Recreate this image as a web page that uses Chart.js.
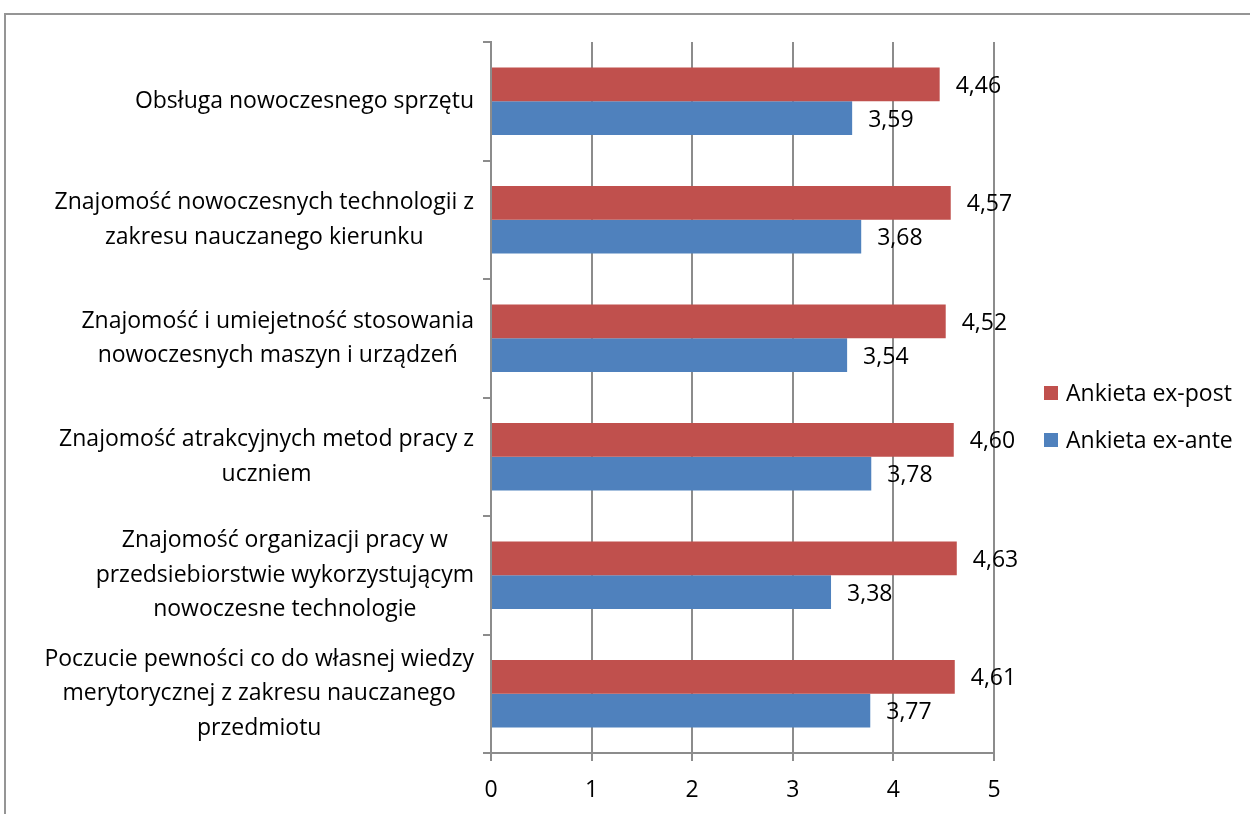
<!DOCTYPE html>
<html><head><meta charset="utf-8">
<script src="https://cdn.jsdelivr.net/npm/chart.js@4.4.0/dist/chart.umd.min.js"></script>
<style>
html,body{margin:0;padding:0;background:#fff;overflow:hidden}
#frame{position:absolute;left:4px;top:13px;width:1400px;height:1000px;border-top:2px solid #959595;border-left:2px solid #959595}
#wrap{position:absolute;left:0;top:0;width:1250px;height:814px}
</style></head><body>
<div id="frame"></div>
<div id="wrap"><canvas id="c" width="1250" height="814"></canvas></div>
<script>
const categories = [
  ["Obsługa nowoczesnego sprzętu"],
  ["Znajomość nowoczesnych technologii z", "zakresu nauczanego kierunku"],
  ["Znajomość i umiejetność stosowania", "nowoczesnych maszyn i urządzeń"],
  ["Znajomość atrakcyjnych metod pracy z", "uczniem"],
  ["Znajomość organizacji pracy w", "przedsiebiorstwie wykorzystującym", "nowoczesne technologie"],
  ["Poczucie pewności co do własnej wiedzy", "merytorycznej z zakresu nauczanego", "przedmiotu"]
];
const seriesNames = ["Ankieta ex-post", "Ankieta ex-ante"];
const exPost = [4.46, 4.57, 4.52, 4.60, 4.63, 4.61];
const exAnte = [3.59, 3.68, 3.54, 3.78, 3.38, 3.77];
const xTickValues = [0, 1, 2, 3, 4, 5];

const FONT = "'Open Sans'";
const FS = 23;
const colors = ["#C0504D", "#4F81BD"];

const labelPlugin = {
  id: "customText",
  afterDraw(chart) {
    const ctx = chart.ctx;
    const ys = chart.scales.y;
    ctx.save();
    ctx.font = FS + "px " + FONT;
    ctx.fillStyle = "#000";
    ctx.textBaseline = "middle";
    ctx.textAlign = "center";
    const lineH = 34.5;
    const rightEdge = ys.right - 17;
    categories.forEach((lines, i) => {
      const cy = ys.getPixelForTick(i);
      let w = 0;
      lines.forEach(l => { w = Math.max(w, ctx.measureText(l).width); });
      const cx = rightEdge - w / 2;
      const y0 = cy - (lines.length - 1) * lineH / 2;
      lines.forEach((l, k) => ctx.fillText(l, cx, y0 + k * lineH));
    });
    // data labels
    ctx.textAlign = "left";
    chart.data.datasets.forEach((ds, di) => {
      const meta = chart.getDatasetMeta(di);
      meta.data.forEach((bar, j) => {
        const txt = ds.data[j].toFixed(2).replace(".", ",");
        ctx.fillText(txt, bar.x + 16, bar.y + 2);
      });
    });
    // legend
    const lx = chart.chartArea.right + 50;
    const ly = [393, 440];
    seriesNames.forEach((n, k) => {
      ctx.fillStyle = colors[k];
      ctx.fillRect(lx, ly[k] - 7, 14, 14);
      ctx.fillStyle = "#000";
      ctx.fillText(n, lx + 22, ly[k] + 1);
    });
    ctx.restore();
  }
};

new Chart(document.getElementById("c"), {
  type: "bar",
  data: {
    labels: categories.map(c => c.join(" ")),
    datasets: [
      { label: seriesNames[0], data: exPost, backgroundColor: colors[0], borderWidth: 0, categoryPercentage: 0.57, barPercentage: 1.0 },
      { label: seriesNames[1], data: exAnte, backgroundColor: colors[1], borderWidth: 0, categoryPercentage: 0.57, barPercentage: 1.0 }
    ]
  },
  options: {
    indexAxis: "y",
    responsive: false,
    animation: false,
    layout: { padding: { top: 42, right: 256, left: 0, bottom: 0 } },
    plugins: { legend: { display: false }, tooltip: { enabled: false } },
    scales: {
      x: {
        min: 0, max: 5,
        afterBuildTicks(s) { s.ticks = xTickValues.map(v => ({ value: v })); },
        ticks: { color: "#000", font: { family: FONT, size: FS }, padding: 16 },
        grid: { color: "#8c8c8c", lineWidth: 2, tickLength: 8 },
        border: { color: "#8c8c8c", width: 2 },
        afterFit(s) { s.height = 61; }
      },
      y: {
        ticks: { display: false },
        grid: { drawOnChartArea: false, color: "#8c8c8c", lineWidth: 2, tickLength: 8, offset: true },
        border: { color: "#8c8c8c", width: 2 },
        afterFit(s) { s.width = 491; }
      }
    }
  },
  plugins: [labelPlugin]
});
</script>
</body></html>
